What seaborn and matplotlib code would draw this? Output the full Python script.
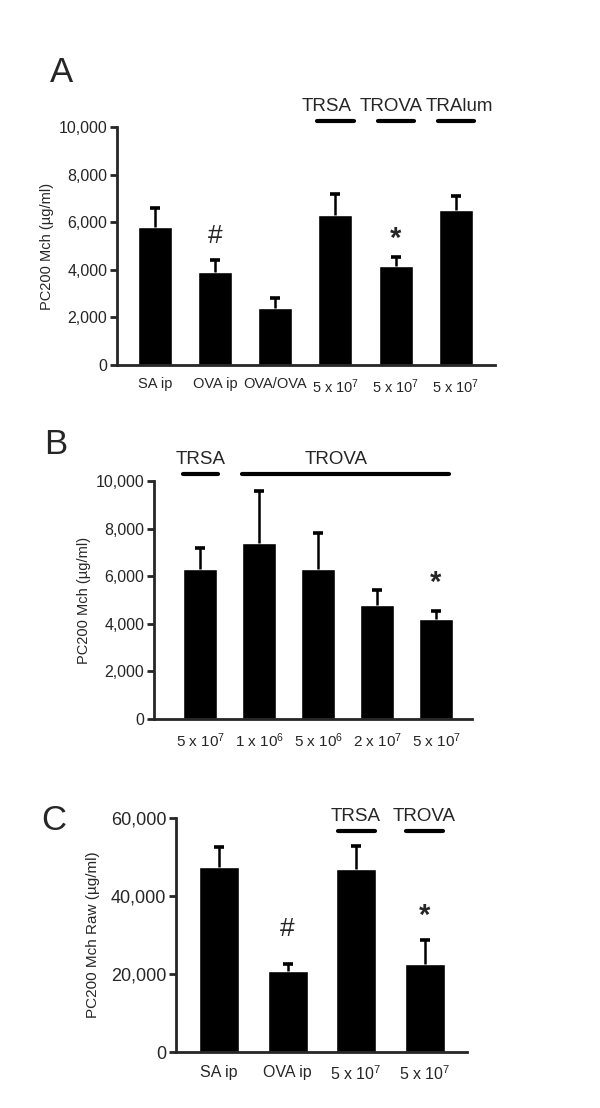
import matplotlib
matplotlib.use("Agg")
import matplotlib.pyplot as plt
from matplotlib import font_manager
import numpy as np
import pandas as pd
import seaborn as sns

# panel A
a_groups = ['SA ip', 'OVA ip', 'OVA/OVA', 'TRSA', 'TROVA', 'TRAlum']
a_ticklabels = ['SA ip', 'OVA ip', 'OVA/OVA', r'5 x 10$^7$', r'5 x 10$^7$', r'5 x 10$^7$']
a_mean = [5800, 3900, 2400, 6300, 4150, 6500]
a_top = [6600, 4400, 2800, 7200, 4550, 7100]

# panel B
b_groups = ['TRSA 5e7', 'TROVA 1e6', 'TROVA 5e6', 'TROVA 2e7', 'TROVA 5e7']
b_ticklabels = [r'5 x 10$^7$', r'1 x 10$^6$', r'5 x 10$^6$', r'2 x 10$^7$', r'5 x 10$^7$']
b_mean = [6300, 7400, 6300, 4800, 4200]
b_top = [7200, 9600, 7800, 5400, 4550]

# panel C
c_groups = ['SA ip', 'OVA ip', 'TRSA', 'TROVA']
c_ticklabels = ['SA ip', 'OVA ip', r'5 x 10$^7$', r'5 x 10$^7$']
c_mean = [47500, 20800, 47000, 22600]
c_top = [52500, 22600, 52800, 28700]

sns.set_style("ticks")
names = {f.name for f in font_manager.fontManager.ttflist}
narrow = 'Liberation Sans Narrow' if 'Liberation Sans Narrow' in names else 'Liberation Sans'
plt.rcParams['font.family'] = ['Liberation Sans', 'DejaVu Sans']
plt.rcParams['mathtext.default'] = 'regular'

fig = plt.figure(figsize=(6, 11.08), dpi=100)


def panel(rect, groups, ticklabels, mean, top, ymax, yticks, ylabel, xlim, width,
          ytsize=11.5, xtsize=11, ylsize=10.5, lpad=3):
    ax = fig.add_axes(rect)
    df = pd.DataFrame({'g': groups, 'v': mean})
    sns.barplot(data=df, x='g', y='v', order=groups, color='black', saturation=1,
                width=width, errorbar=None, ax=ax)
    x = np.arange(len(groups))
    # upper half of the error bar only, with a short cap
    ax.vlines(x, mean, top, color='black', lw=1.8, zorder=1)
    ax.plot(x, top, ls='none', marker='_', ms=7, mew=2.6, color='black', zorder=1)
    ax.set_ylim(0, ymax)
    ax.set_xlim(*xlim)
    ax.set_yticks(yticks)
    ax.set_yticklabels([f'{t:,}' for t in yticks], fontfamily=narrow, fontsize=ytsize)
    ax.set_xticks(x)
    ax.set_xticklabels(ticklabels, fontfamily=narrow, fontsize=xtsize)
    ax.tick_params(axis='x', length=0, pad=9)
    ax.tick_params(axis='y', length=5, width=2, pad=2)
    ax.set_xlabel('')
    ax.set_ylabel(ylabel, fontsize=ylsize, labelpad=lpad)
    sns.despine(ax=ax)
    for s in ['left', 'bottom']:
        ax.spines[s].set_linewidth(2)
    return ax


def bracket(ax, x0, x1, y_line, y_text, label, xt=None):
    ax.plot([x0, x1], [y_line, y_line], color='black', lw=3, clip_on=False)
    ax.text((x0 + x1) / 2 if xt is None else xt, y_text, label, ha='center', va='center',
            fontsize=13.5, clip_on=False)


# A
axA = panel([0.195, 0.6706, 0.63, 0.2148], a_groups, a_ticklabels, a_mean, a_top,
            10000, [0, 2000, 4000, 6000, 8000, 10000], 'PC200 Mch (µg/ml)', (-0.63, 5.65), 0.565,
            xtsize=10.5)
for i, xt in zip([3, 4, 5], [2.86, 3.92, 5.06]):
    bracket(axA, i - 0.3, i + 0.3, 10250, 10850, a_groups[i], xt=xt)
axA.text(1, 5400, '#', ha='center', va='center', fontsize=19)
axA.text(4, 5300, '*', ha='center', va='center', fontsize=21, fontweight='bold')

# B
axB = panel([0.2567, 0.3511, 0.53, 0.2148], b_groups, b_ticklabels, b_mean, b_top,
            10000, [0, 2000, 4000, 6000, 8000, 10000], 'PC200 Mch (µg/ml)', (-0.78, 4.61), 0.576)
bracket(axB, -0.29, 0.31, 10300, 10900, 'TRSA')
bracket(axB, 0.71, 4.22, 10300, 10900, 'TROVA', xt=2.3)
axB.text(4, 5700, '*', ha='center', va='center', fontsize=21, fontweight='bold')

# C
axC = panel([0.2933, 0.0505, 0.485, 0.2112], c_groups, c_ticklabels, c_mean, c_top,
            60000, [0, 20000, 40000, 60000], 'PC200 Mch Raw (µg/ml)', (-0.63, 3.62), 0.584,
            ytsize=13, xtsize=11.5, ylsize=11, lpad=8)
for i in [2, 3]:
    bracket(axC, i - 0.27, i + 0.27, 56700, 60400, c_groups[i])
axC.text(1, 31500, '#', ha='center', va='center', fontsize=19)
axC.text(3, 35000, '*', ha='center', va='center', fontsize=21, fontweight='bold')

# panel letters
fig.text(0.083, 1 - 73 / 1108, 'A', fontsize=25, ha='left', va='center')
fig.text(0.073, 1 - 445 / 1108, 'B', fontsize=25, ha='left', va='center')
fig.text(0.068, 1 - 820 / 1108, 'C', fontsize=25, ha='left', va='center')

fig.savefig('out.png', dpi=100, facecolor='white')
